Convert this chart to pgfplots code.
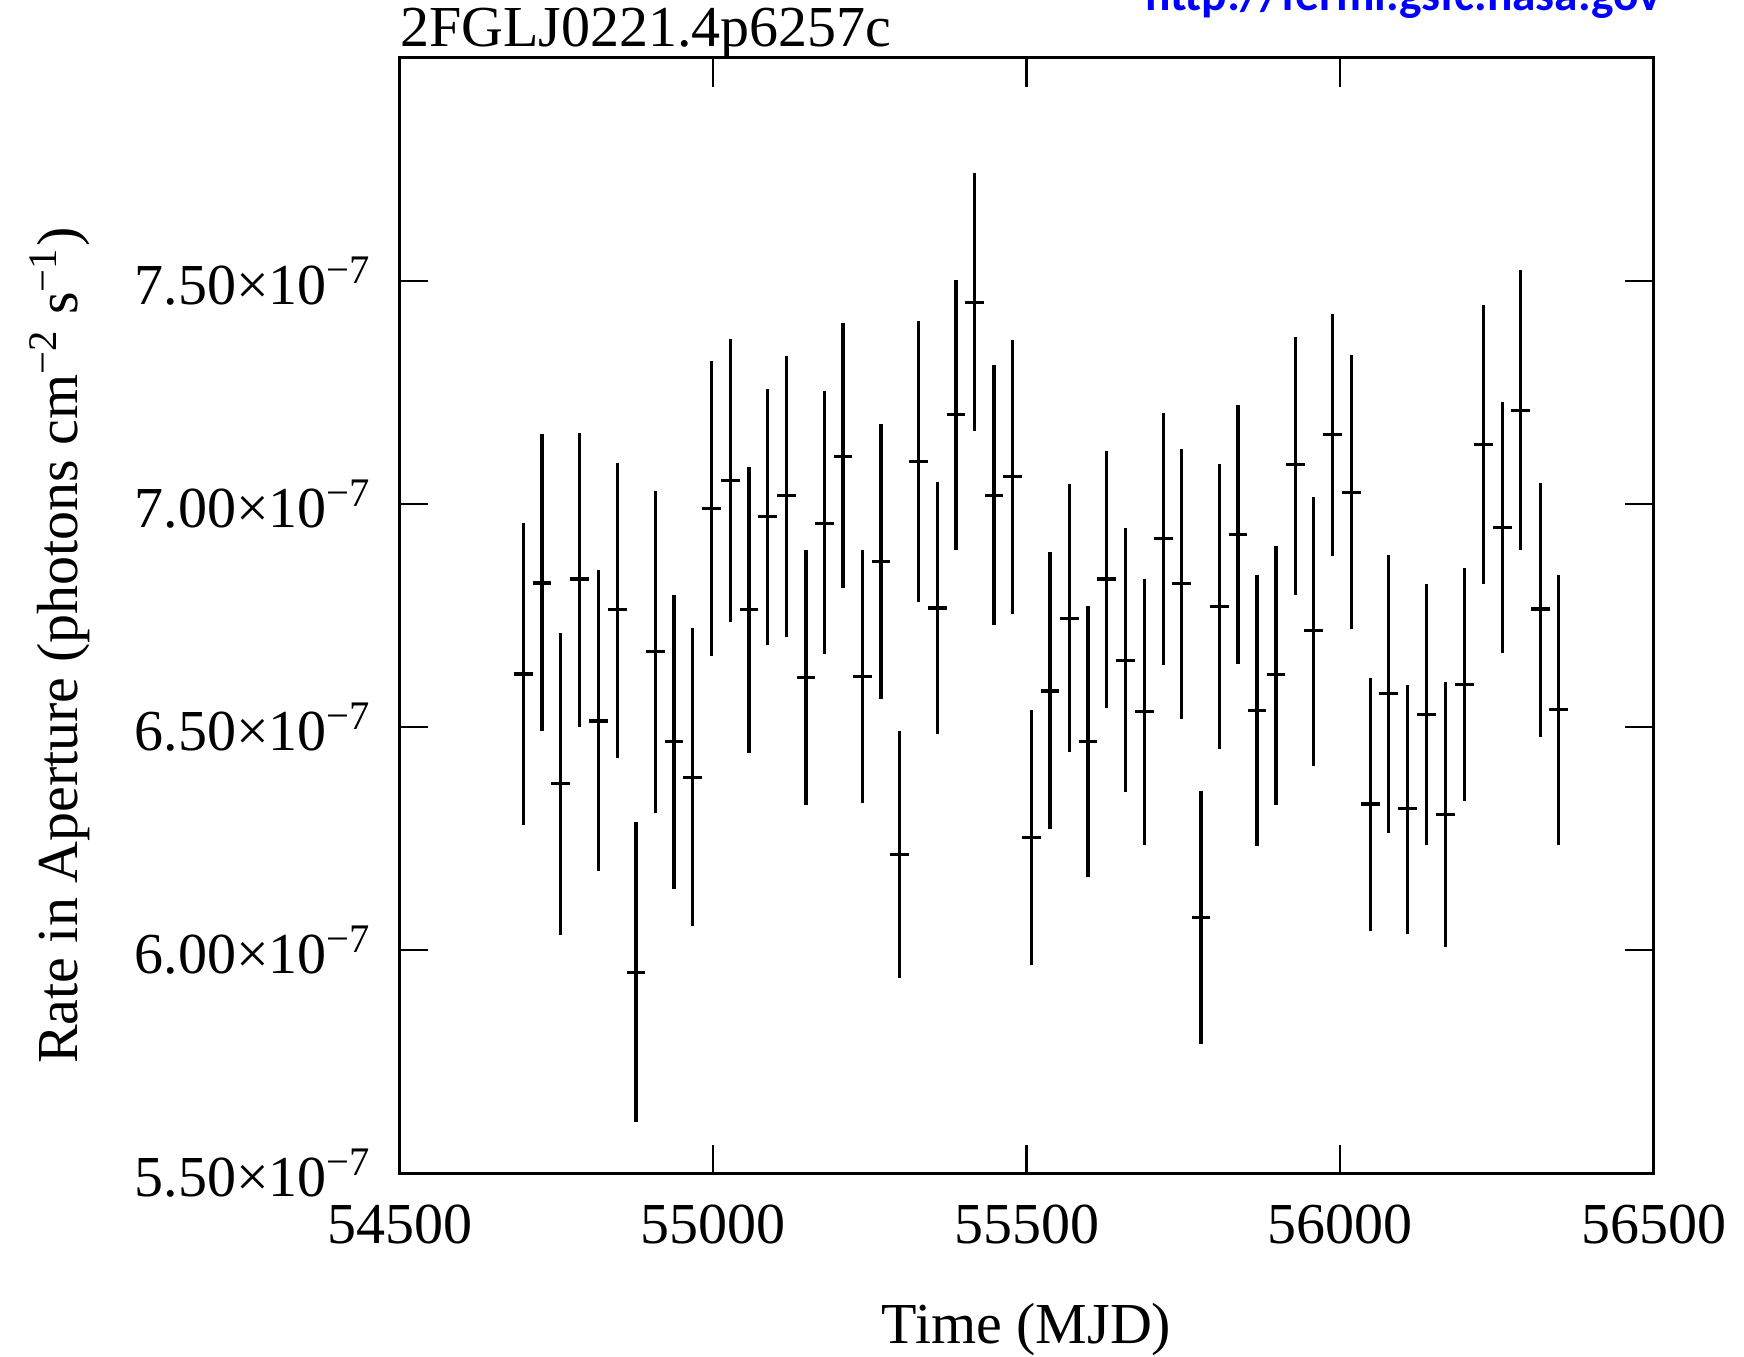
\documentclass[border=0pt]{standalone}
\usepackage{fontspec}
\setmainfont{Liberation Serif}
\newfontfamily\urlfont{Carlito}
\usepackage{pgfplots}
\usepackage{pgfplotstable}
\pgfplotsset{compat=1.18}

% t: MJD, r: rate (1e-7 photons cm^-2 s^-1), ep/em: upper/lower error
\pgfplotstableread{
t r ep em
54697.5 6.619 0.338 0.339
54727.3 6.823 0.334 0.332
54757.1 6.374 0.338 0.340
54787.4 6.832 0.328 0.331
54817.7 6.514 0.338 0.337
54847.4 6.763 0.330 0.331
54877.2 5.951 0.336 0.335
54908.0 6.669 0.360 0.361
54937.8 6.468 0.329 0.331
54967.6 6.388 0.334 0.334
54997.3 6.990 0.330 0.330
55027.6 7.053 0.317 0.318
55057.4 6.763 0.320 0.320
55087.2 6.972 0.285 0.287
55117.5 7.019 0.312 0.316
55148.3 6.611 0.286 0.286
55178.1 6.957 0.296 0.294
55207.3 7.107 0.298 0.294
55238.1 6.613 0.283 0.282
55267.9 6.872 0.308 0.308
55297.1 6.215 0.277 0.278
55327.4 7.096 0.314 0.316
55357.7 6.767 0.282 0.283
55387.6 7.201 0.301 0.304
55417.4 7.452 0.290 0.288
55448.2 7.020 0.291 0.292
55477.3 7.061 0.307 0.308
55508.3 6.252 0.286 0.285
55537.5 6.581 0.311 0.310
55568.3 6.743 0.301 0.299
55598.1 6.468 0.304 0.304
55627.3 6.832 0.286 0.289
55658.2 6.650 0.297 0.296
55688.5 6.536 0.297 0.299
55718.2 6.923 0.281 0.284
55747.5 6.822 0.301 0.303
55778.3 6.073 0.284 0.284
55808.1 6.770 0.319 0.319
55837.3 6.932 0.291 0.291
55867.6 6.538 0.304 0.304
55897.9 6.618 0.289 0.293
55928.7 7.089 0.286 0.292
55958.0 6.716 0.300 0.304
55988.3 7.156 0.269 0.273
56018.0 7.026 0.307 0.307
56048.9 6.328 0.283 0.285
56077.6 6.575 0.311 0.311
56108.0 6.317 0.278 0.280
56138.3 6.529 0.293 0.292
56167.9 6.305 0.297 0.297
56198.2 6.596 0.260 0.261
56229.2 7.134 0.311 0.312
56258.9 6.947 0.281 0.281
56287.6 7.210 0.315 0.314
56319.0 6.765 0.282 0.286
56348.8 6.539 0.303 0.302
}\lcdata

\begin{document}
\begin{tikzpicture}[font=\fontsize{14.5}{17}\selectfont]
\begin{axis}[
  scale only axis,
  width=313.5pt, height=278.9pt,
  font=\fontsize{14.5}{17}\selectfont,
  xmin=54500, xmax=56500,
  ymin=5.5, ymax=8.0,
  scaled x ticks=false,
  scaled y ticks=false,
  xtick={54500,55000,55500,56000,56500},
  xticklabels={54500,55000,55500,56000,56500},
  ytick={5.5,6,6.5,7,7.5},
  yticklabels={5.50×10\textsuperscript{−7},6.00×10\textsuperscript{−7},6.50×10\textsuperscript{−7},7.00×10\textsuperscript{−7},7.50×10\textsuperscript{−7}},
  minor tick num=0,
  tick align=inside,
  major tick length=7.2pt,
  axis line style={line width=0.8pt},
  tick style={line width=0.55pt, black},
  xticklabel style={yshift=-4.3pt},
  yticklabel style={xshift=-3.3pt},
  every axis title shift=0pt,
  title={2FGLJ0221.4p6257c},
  title style={at={(rel axis cs:0,1)}, anchor=base west, yshift=2.7pt, inner sep=0pt},
  xlabel={Time (MJD)},
  xlabel style={at={([yshift=-42.4pt]rel axis cs:0.5,0)}, anchor=base, inner sep=0pt},
  ylabel={Rate in Aperture (photons cm\textsuperscript{−2} s\textsuperscript{−1})},
  ylabel style={at={([xshift=-80.4pt]rel axis cs:0,0.473)}, anchor=base, inner sep=0pt},
]
\addplot[draw=none, mark=none,
  error bars/.cd, x dir=both, x fixed=15, y dir=both, y explicit,
  error mark=none,
  error bar style={draw=black, line width=0.8pt, solid}]
  table[x=t, y=r, y error plus=ep, y error minus=em] {\lcdata};
\coordinate (LL) at (rel axis cs:0,0);
\coordinate (UR) at (rel axis cs:1,1);
\end{axis}
\node[anchor=base west, inner sep=0pt, text=blue, font=\urlfont\bfseries\fontsize{11.85}{14}\selectfont]
  at ([xshift=-127.15pt, yshift=11.7pt]UR) {http://fermi.gsfc.nasa.gov};
\pgfresetboundingbox
\path ([xshift=-99.875pt, yshift=-45.65pt]LL) rectangle ([xshift=22.6pt, yshift=14.45pt]UR);
\end{tikzpicture}
\end{document}
